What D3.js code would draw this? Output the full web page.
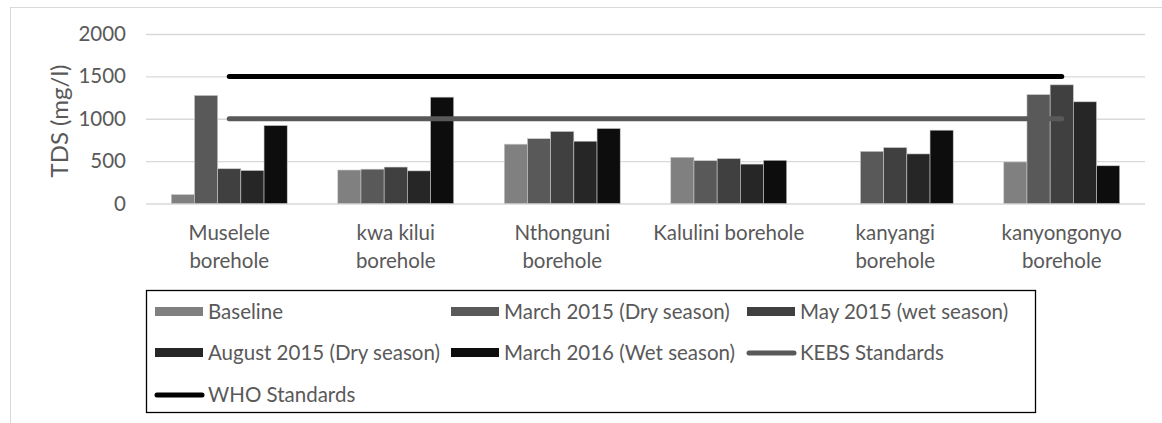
<!DOCTYPE html>
<html>
<head>
<meta charset="utf-8">
<script src="https://cdn.jsdelivr.net/npm/d3@7"></script>
<style>
  html, body { margin: 0; padding: 0; background: #fff; }
  svg { display: block; font-family: Lato, "Open Sans", sans-serif; }
</style>
</head>
<body>
<svg id="chart" width="1162" height="423"></svg>
<script>
const svg = d3.select('#chart')
const textColor = '#595959'
const gridColor = '#d9d9d9'

// boreholes and how their labels wrap
const categories = ['Muselele borehole', 'kwa kilui borehole', 'Nthonguni borehole', 'Kalulini borehole', 'kanyangi borehole', 'kanyongonyo borehole']
const categoryLines = [['Muselele', 'borehole'], ['kwa kilui', 'borehole'], ['Nthonguni', 'borehole'], ['Kalulini borehole'], ['kanyangi', 'borehole'], ['kanyongonyo', 'borehole']]

// TDS readings (mg/l), one array per sampling round
const seriesNames = ['Baseline', 'March 2015 (Dry season)', 'May 2015 (wet season)', 'August 2015 (Dry season)', 'March 2016 (Wet season)']
const baseline = [105, 395, 700, 545, null, 490]
const march2015 = [1275, 405, 765, 505, 615, 1285]
const may2015 = [410, 430, 850, 530, 660, 1400]
const august2015 = [390, 385, 735, 465, 585, 1200]
const march2016 = [920, 1255, 885, 510, 865, 445]
const seriesColors = ['#808080', '#595959', '#404040', '#262626', '#0d0d0d']

// standards drawn as lines
const kebs = [1000, 1000, 1000, 1000, 1000, 1000]
const who = [1500, 1500, 1500, 1500, 1500, 1500]

const yTicks = [0, 500, 1000, 1500, 2000]

const seriesValues = [baseline, march2015, may2015, august2015, march2016]

// plot area
const plotLeft = 146, plotRight = 1145, plotTop = 34, plotBottom = 203.5

// outer chart border (right and bottom edges fall outside the page)
svg.append('rect')
  .attr('x', 10.5).attr('y', 7.5)
  .attr('width', 1200).attr('height', 500)
  .attr('fill', '#fff')
  .attr('stroke', gridColor)

const x0 = d3.scaleBand()
  .domain(categories)
  .range([plotLeft, plotRight])
  .padding(0)

const x1 = d3.scaleBand()
  .domain(seriesNames)
  .range([0, x0.bandwidth()])
  .paddingInner(0)
  .paddingOuter(1.09)

const y = d3.scaleLinear()
  .domain([0, 2000])
  .range([plotBottom, plotTop])

// gridlines
const yAxis = d3.axisLeft(y)
  .tickValues(yTicks)
  .tickFormat(d3.format('d'))
  .tickSize(-(plotRight - plotLeft))
  .tickPadding(20)

const gAxis = svg.append('g')
  .attr('transform', `translate(${plotLeft}, 0)`)
  .call(yAxis)
gAxis.select('path.domain').remove()
gAxis.selectAll('.tick line').attr('stroke', gridColor).attr('stroke-width', 1.3)
gAxis.selectAll('.tick text')
  .attr('fill', textColor)
  .style('font-size', '20.5px')
  .attr('font-family', 'Lato, sans-serif')

// bars
const groups = svg.selectAll('g.group')
  .data(categories)
  .enter()
  .append('g')
    .attr('class', 'group')
    .attr('transform', d => `translate(${x0(d)}, 0)`)

groups.selectAll('rect')
  .data((d, i) => seriesNames.map((s, j) => ({ s: s, v: seriesValues[j][i], c: seriesColors[j] })))
  .enter()
  .filter(d => d.v != null)
  .append('rect')
    .attr('x', d => x1(d.s))
    .attr('y', d => y(d.v))
    .attr('width', x1.bandwidth())
    .attr('height', d => y(0) - y(d.v))
    .attr('fill', d => d.c)
    .attr('stroke', '#c8c8c8')
    .attr('stroke-width', 0.6)

// standards lines
const line = d3.line()
  .x((d, i) => x0(categories[i]) + x0.bandwidth() / 2)
  .y(d => y(d))

svg.append('path')
  .attr('d', line(kebs))
  .attr('fill', 'none')
  .attr('stroke', '#595959')
  .attr('stroke-width', 5)
  .attr('stroke-linecap', 'round')

svg.append('path')
  .attr('d', line(who))
  .attr('fill', 'none')
  .attr('stroke', '#000')
  .attr('stroke-width', 5)
  .attr('stroke-linecap', 'round')

// category labels
const catLabels = svg.selectAll('text.cat')
  .data(categoryLines)
  .enter()
  .append('text')
    .attr('class', 'cat')
    .attr('text-anchor', 'middle')
    .attr('fill', textColor)
    .style('font-size', '20.5px')

catLabels.selectAll('tspan')
  .data((d, i) => d.map(t => ({ t: t, cx: x0(categories[i]) + x0.bandwidth() / 2 })))
  .enter()
  .append('tspan')
    .attr('x', d => d.cx)
    .attr('y', (d, k) => 240 + k * 28)
    .text(d => d.t)

// y axis title
svg.append('text')
  .attr('transform', 'translate(68, 121) rotate(-90)')
  .attr('text-anchor', 'middle')
  .attr('fill', textColor)
  .style('font-size', '24px')
  .text('TDS (mg/l)')

// legend
const legend = svg.append('g')
legend.append('rect')
  .attr('x', 146.5).attr('y', 290.5)
  .attr('width', 889).attr('height', 122)
  .attr('fill', '#fff')
  .attr('stroke', '#000')
  .attr('stroke-width', 1.3)

const legendItems = seriesNames.map((s, j) => ({ name: s, color: seriesColors[j], type: 'bar' }))
  .concat([{ name: 'KEBS Standards', color: '#595959', type: 'line' }, { name: 'WHO Standards', color: '#000', type: 'line' }])

const legendCols = [155, 451, 747]
const legendRows = [312, 353, 395]

const items = legend.selectAll('g.item')
  .data(legendItems)
  .enter()
  .append('g')
    .attr('class', 'item')
    .attr('transform', (d, i) => `translate(${legendCols[i % 3]}, ${legendRows[Math.floor(i / 3)]})`)

items.filter(d => d.type === 'bar')
  .append('rect')
    .attr('x', 0).attr('y', -5)
    .attr('width', 48).attr('height', 9)
    .attr('fill', d => d.color)

items.filter(d => d.type === 'line')
  .append('line')
    .attr('x1', 2).attr('x2', 47)
    .attr('y1', 0).attr('y2', 0)
    .attr('stroke', d => d.color)
    .attr('stroke-width', 5)
    .attr('stroke-linecap', 'round')

items.append('text')
  .attr('x', 53)
  .attr('y', 0)
  .attr('dy', '0.35em')
  .attr('fill', textColor)
  .style('font-size', '20.5px')
  .text(d => d.name)
</script>
</body>
</html>
